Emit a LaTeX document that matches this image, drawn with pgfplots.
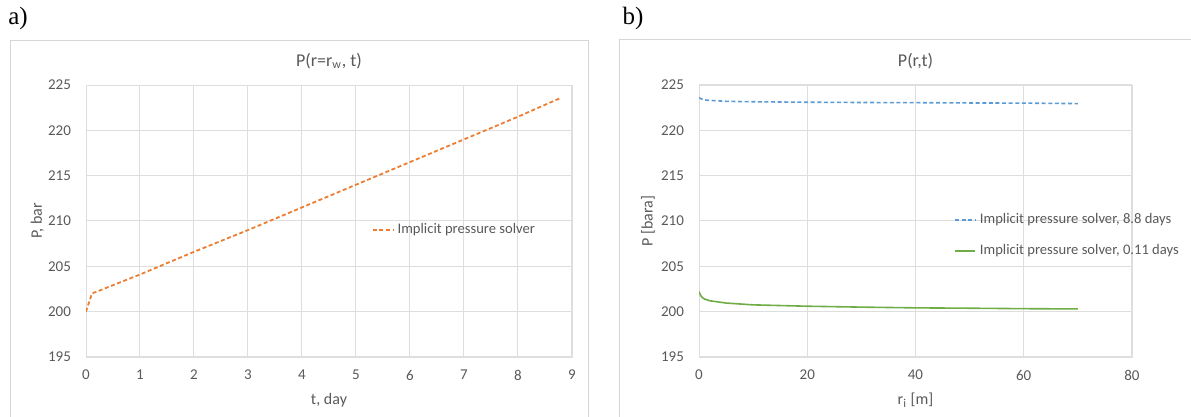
\documentclass[border=0pt]{standalone}
\usepackage{pgfplots}
\pgfplotsset{compat=1.18}
\usepackage{fontspec}
\setmainfont{Carlito}
\newfontfamily\timesfont{Liberation Serif}

\definecolor{txt}{RGB}{89,89,89}
\definecolor{gridc}{RGB}{222,222,222}
\definecolor{framec}{RGB}{214,214,214}
\definecolor{xlorange}{RGB}{237,125,49}
\definecolor{xlblue}{RGB}{91,155,213}
\definecolor{xlgreen}{RGB}{112,173,71}

\pgfplotsset{
  xlchart/.style={
    scale only axis,
    axis line style={draw=gridc},
    grid=major,
    major grid style={gridc, line width=0.5pt},
    major tick style={draw=none},
    tick label style={font=\fontsize{7.5}{9}\selectfont, text=txt},
    /pgf/number format/assume math mode=true,
    label style={font=\fontsize{8}{10}\selectfont, text=txt},
    title style={font=\fontsize{9}{11}\selectfont, text=txt},
    ymin=195, ymax=225, ytick={195,200,...,225},
    yticklabel style={xshift=-4pt},
    xticklabel style={yshift=-3pt},
    legend cell align=left,
    legend style={draw=none, fill=none, font=\fontsize{7.3}{9}\selectfont, text=txt},
    legend image code/.code={\draw[#1] (0pt,0pt) -- (10pt,0pt);},
  }
}

\begin{document}
\begin{tikzpicture}
\path[use as bounding box] (0pt,0pt) rectangle (595.5pt,208.5pt);

% chart frames
\draw[framec, line width=0.5pt] (5pt,0pt) -- (5pt,188pt) -- (294pt,188pt) -- (294pt,0pt);
\draw[framec, line width=0.5pt] (309.5pt,0pt) -- (309.5pt,188.5pt) -- (595.5pt,188.5pt);

\node[font=\timesfont\fontsize{12.5}{14}\selectfont] at (9pt,199.5pt) {a)};
\node[font=\timesfont\fontsize{12.5}{14}\selectfont] at (316.5pt,199.5pt) {b)};

% left: P at the well over time
\begin{axis}[xlchart,
  at={(43pt,30pt)}, anchor=south west,
  width=243pt, height=136pt,
  xmin=0, xmax=9, xtick={0,1,...,9},
  title={P(r=r\textsubscript{w}, t)},
  title style={at={(axis description cs:0.5,1.045)}, anchor=center},
  xlabel={t, day},
  xlabel style={at={(axis description cs:0.5,-0.158)}, anchor=center},
  ylabel={P, bar},
  ylabel style={at={(axis description cs:-0.1,0.5)}, anchor=center},
  legend style={at={(axis description cs:0.575,0.467)}, anchor=west},
]
\addplot[xlorange, line width=0.9pt, dash pattern=on 2pt off 1.3pt] coordinates {
  (0,200) (0.11,202) (1,204.1) (2,206.6) (3,209) (4,211.5)
  (5,214) (6,216.5) (7,219) (8,221.5) (8.8,223.6)
};
\addlegendentry{Implicit pressure solver}
\end{axis}

% right: pressure profiles along r
\begin{axis}[xlchart,
  at={(349.5pt,30pt)}, anchor=south west,
  width=216.5pt, height=136pt,
  xmin=0, xmax=80, xtick={0,20,...,80},
  title={P(r,t)},
  title style={at={(axis description cs:0.5,1.045)}, anchor=center},
  xlabel={r\textsubscript{i} [m]},
  xlabel style={at={(axis description cs:0.5,-0.158)}, anchor=center},
  ylabel={P [bara]},
  ylabel style={at={(axis description cs:-0.118,0.5)}, anchor=center},
  legend style={at={(axis description cs:0.575,0.447)}, anchor=west,
    row sep=5pt},
]
\addplot[xlblue, line width=0.8pt, dash pattern=on 2pt off 1.3pt] coordinates {
  (0,223.6) (0.5,223.45) (1,223.35) (2,223.3) (5,223.2) (10,223.15)
  (20,223.1) (30,223.07) (40,223.05) (50,223.02) (60,223.0) (70,222.95)
};
\addlegendentry{Implicit pressure solver, 8.8 days}
\addplot[xlgreen, line width=0.8pt] coordinates {
  (0,202.2) (0.3,201.8) (0.6,201.55) (1,201.4) (2,201.2) (5,200.95)
  (10,200.75) (20,200.6) (30,200.5) (40,200.42) (50,200.38) (60,200.33) (70,200.3)
};
\addlegendentry{Implicit pressure solver, 0.11 days}
\end{axis}
\end{tikzpicture}
\end{document}
